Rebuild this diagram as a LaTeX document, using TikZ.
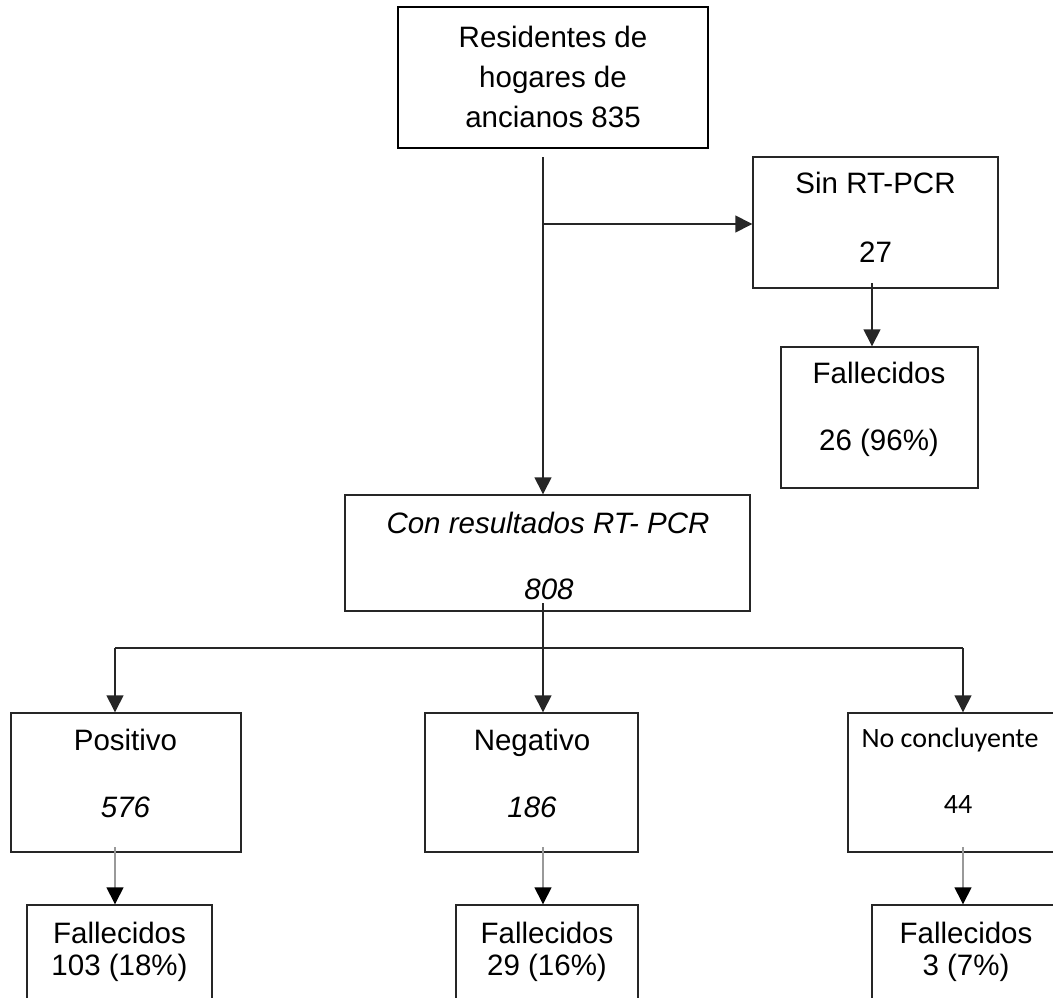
\documentclass[tikz,border=0pt]{standalone}
\usepackage{fontspec}
\setmainfont{Liberation Sans}
\newfontfamily\calib{Carlito}
\usetikzlibrary{arrows.meta}
\tikzset{
  box/.style={draw=black!85, line width=1.4pt, inner sep=0pt},
  topbox/.style={draw=black, line width=2.8pt, inner sep=0pt},
  txt/.style={anchor=base, inner sep=0pt, font=\fontsize{29.5}{34}\selectfont},
  ntxt/.style={anchor=base, inner sep=0pt, font=\calib\fontsize{28}{34}\selectfont},
  arr/.style={line width=1.4pt, draw=black!85, -{Triangle[width=17pt,length=17pt]}},
  garr/.style={line width=1.4pt, draw=black!40, -{Triangle[width=17pt,length=17pt,fill=black,color=black]}},
  ln/.style={line width=1.4pt, draw=black!85}
}
\begin{document}
\begin{tikzpicture}[x=1pt,y=-1pt]
\useasboundingbox (0,0) rectangle (1053,998);
\clip (0,0) rectangle (1053,998);
% boxes: centre, width, height
\node[topbox, minimum width=310pt, minimum height=141pt] (top) at (553,77.5) {};
\node[box, minimum width=245pt, minimum height=131pt] (sin) at (875.5,222.5) {};
\node[box, minimum width=197pt, minimum height=141pt] (fs) at (879.5,417.5) {};
\node[box, minimum width=405pt, minimum height=116pt] (con) at (547.5,553) {};
\node[box, minimum width=230pt, minimum height=139pt] (pos) at (126,782.5) {};
\node[box, minimum width=213pt, minimum height=139pt] (neg) at (531.5,782.5) {};
\node[box, minimum width=232pt, minimum height=139pt] (nc) at (964,782.5) {};
\node[box, minimum width=185pt, minimum height=115pt] (fp) at (119.5,962.5) {};
\node[box, minimum width=182pt, minimum height=115pt] (fn) at (547,962.5) {};
\node[box, minimum width=208pt, minimum height=115pt] (fc) at (976,962.5) {};
% texts
\node[txt] (t1) at (553,48) {Residentes de};
\node[txt] (t2) at (553,88) {hogares de};
\node[txt] (t3) at (553,128) {ancianos 835};
\node[txt] (s1) at (875.5,193) {Sin RT-PCR};
\node[txt] (s2) at (875.5,262) {27};
\node[txt] (fs1) at (879,383) {Fallecidos};
\node[txt] (fs2) at (879,450) {26 (96\%)};
\node[txt] (c1) at (548,533) {\itshape Con resultados RT- PCR};
\node[txt] (c2) at (549,599) {\itshape 808};
\node[txt] (p1) at (125.5,750) {Positivo};
\node[txt] (p2) at (125.5,817) {\itshape 576};
\node[txt] (n1) at (532,750) {Negativo};
\node[txt] (n2) at (532,817) {\itshape 186};
\node[ntxt] (nc1) at (950,747) {No concluyente};
\node[ntxt] (nc2) at (958,813) {44};
\node[txt] (fp1) at (119.5,943) {Fallecidos};
\node[txt] (fp2) at (119.5,975) {103 (18\%)};
\node[txt] (fn1) at (547,943) {Fallecidos};
\node[txt] (fn2) at (547,975) {29 (16\%)};
\node[txt] (fc1) at (966,943) {Fallecidos};
\node[txt] (fc2) at (966,975) {3 (7\%)};
% connectors
\coordinate (v0) at (543,157);
\coordinate (vb) at (543,224);
\draw[arr] (v0) -- (v0 |- con.north);
\draw[arr] (vb) -- (vb -| sin.west);
\coordinate (sv) at (872,283);
\draw[arr] (sv) -- (sv |- fs.north);
\coordinate (cv) at (543,603);
\coordinate (hl) at (115,648);
\coordinate (hr) at (963,648);
\draw[arr] (cv) -- (cv |- neg.north);
\draw[ln] (hl) -- (hr);
\draw[arr] (hl) -- (hl |- pos.north);
\draw[arr] (hr) -- (hr |- nc.north);
\coordinate (g1) at (115,847);
\coordinate (g2) at (543,847);
\coordinate (g3) at (963,847);
\draw[garr] (g1) -- (g1 |- fp.north);
\draw[garr] (g2) -- (g2 |- fn.north);
\draw[garr] (g3) -- (g3 |- fc.north);
\end{tikzpicture}
\end{document}
